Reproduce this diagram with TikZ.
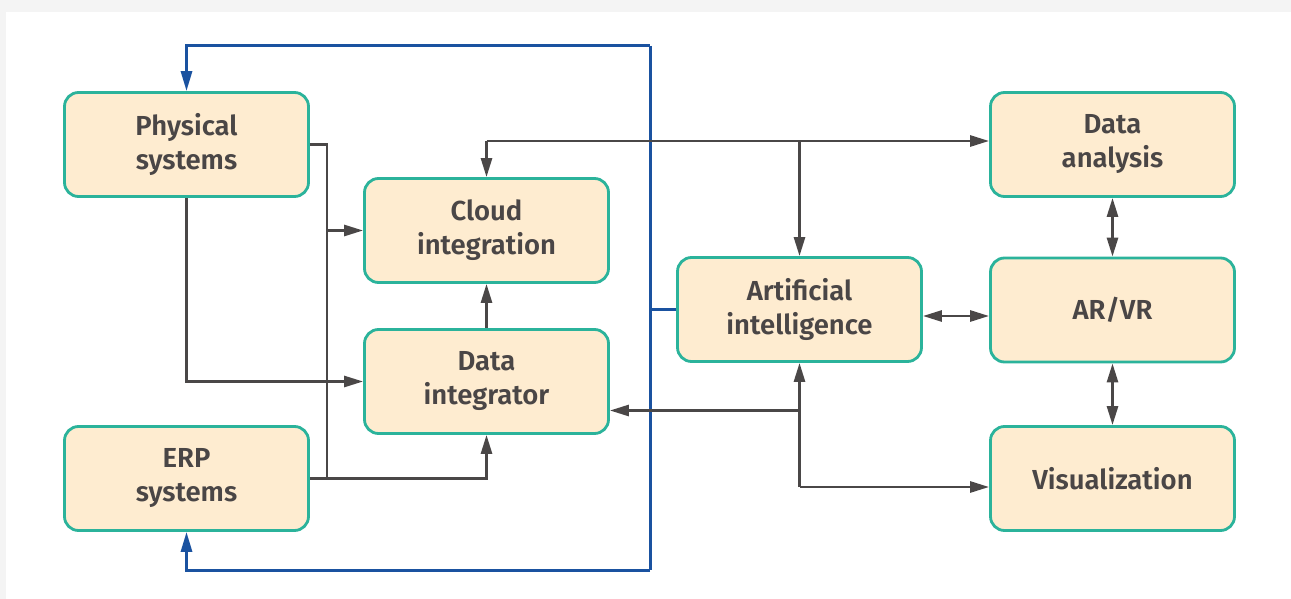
\documentclass[tikz,border=0pt]{standalone}
\usepackage{fontspec}
\setmainfont{Fira Sans}[BoldFont={Fira Sans SemiBold}]
\usetikzlibrary{arrows.meta}
\definecolor{boxfill}{HTML}{FEECD0}
\definecolor{boxline}{HTML}{2BB39B}
\definecolor{txt}{HTML}{4A4646}
\definecolor{lnk}{HTML}{4A4747}
\definecolor{loopblue}{HTML}{1A52A0}
\definecolor{bggray}{HTML}{F4F4F4}
\tikzset{
  blk/.style={draw=boxline, line width=2.8pt, fill=boxfill, rounded corners=14pt,
    minimum width=244pt, minimum height=104pt, align=center, text=txt,
    font=\fontsize{27.5}{34}\selectfont\bfseries, inner sep=0pt},
  lnkline/.style={draw=lnk, line width=2.7pt},
  arr/.style={lnkline, -{Triangle[length=19pt,width=11pt]}},
  darr/.style={lnkline, {Triangle[length=19pt,width=11pt]}-{Triangle[length=19pt,width=11pt]}},
  blueline/.style={draw=loopblue, line width=3pt},
  barr/.style={blueline, -{Triangle[length=20pt,width=11pt]}}
}
\begin{document}
\begin{tikzpicture}[x=1pt,y=-1pt]
\fill[bggray] (0,0) rectangle (1291,599);
\fill[white] (6,12) rectangle (1291,599);
\useasboundingbox (0,0) rectangle (1291,599);

\node[blk] (phys) at (186.5,144.5) {Physical\\systems};
\node[blk] (cloud) at (486.5,230.5) {Cloud\\integration};
\node[blk] (dint) at (486.5,381.5) {Data\\integrator};
\node[blk] (erp) at (186.5,478.5) {ERP\\systems};
\node[blk] (ai) at (799.5,309.5) {Artificial\\intelligence};
\node[blk] (da) at (1112.5,144.5) {Data\\analysis};
\node[blk] (arvr) at (1112.5,310) {AR/VR};
\node[blk] (vis) at (1112.5,478.5) {Visualization};

% blue feedback loop
\coordinate (btr) at (650,46);
\coordinate (bbr) at (650,570);
\draw[blueline] (btr) -- (bbr);
\draw[blueline] (ai.west) -- (ai.west -| btr);
\draw[barr] (btr) -| (phys.north);
\draw[barr] (bbr) -| (erp.south);

% left side gray connectors
\coordinate (jv) at (327,478.5);
\draw[lnkline] (phys.east) -| (jv);
\draw[arr] (jv |- cloud.west) -- (cloud.west);
\draw[arr] (erp.east) -| (dint.south);
\draw[arr] (phys.south) |- (dint.west);
\draw[arr] (dint.north) -- (cloud.south);

% top line
\coordinate (tl) at (486.5,141);
\draw[arr] (tl) -- (cloud.north);
\draw[arr] (tl) -- (tl -| da.west);
\draw[arr] (tl -| ai.north) -- (ai.north);

% right side
\draw[darr] (ai.east |- 0,316) -- (arvr.west |- 0,316);
\draw[darr] (da.south) -- (arvr.north);
\draw[darr] (arvr.south) -- (vis.north);

% bottom of AI
\coordinate (ab) at (799.5,487);
\draw[arr] (ab) -- (ai.south);
\draw[arr] (ab) -- (ab -| vis.west);
\draw[arr] (ab |- 0,410.5) -- (dint.east |- 0,410.5);
\end{tikzpicture}
\end{document}
